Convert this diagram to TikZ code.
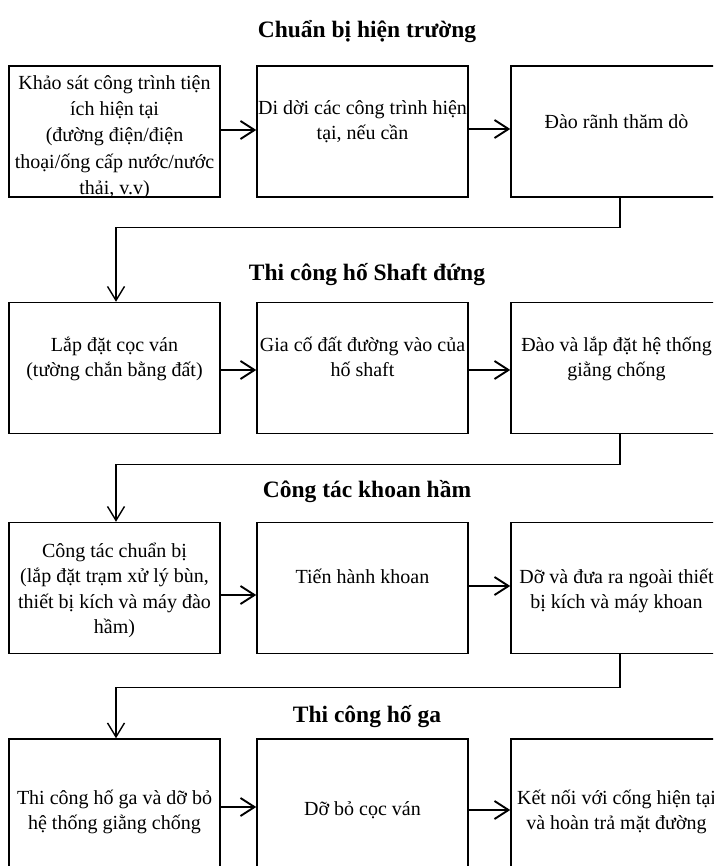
\documentclass[tikz,border=0pt]{standalone}
\usepackage{fontspec}
\setmainfont{Liberation Serif}
\usetikzlibrary{arrows.meta}
\begin{document}
\begin{tikzpicture}[x=1pt,y=-1pt,
  box/.style={draw, line width=1.5pt, minimum width=211pt, minimum height=131pt, inner sep=0pt},
  txt/.style={anchor=north, inner sep=0pt, align=center, font=\fontsize{20}{25.5}\selectfont},
  ttl/.style={anchor=base, inner sep=0pt, font=\fontsize{23.5}{28}\selectfont\bfseries},
  arr/.style={line width=1.9pt, -{Straight Barb[length=14pt,width=18pt]}},
  conn/.style={line width=1.4pt, -{Straight Barb[length=14pt,width=17pt]}}
]
\useasboundingbox (0,0) rectangle (713,866);
\clip (0,0) rectangle (713,866);
\newcommand{\fl}{\rule{0pt}{21pt}}
% titles
\node[ttl] (h1) at (367,38) {Chuẩn bị hiện trường};
\node[ttl] (h2) at (367,280) {Thi công hố Shaft đứng};
\node[ttl] (h3) at (367,497) {Công tác khoan hầm};
\node[ttl] (h4) at (367,722) {Thi công hố ga};
% row 1
\node[box] (r1a) at (114.5,131.5) {};
\node[box] (r1b) at (362.5,131.5) {};
\node[box] (r1c) at (616.5,131.5) {};
\node[txt, font=\fontsize{20}{26.3}\selectfont] (t1a) at (114.5,89-21) {\fl Khảo sát công trình tiện\\ích hiện tại\\(đường điện/điện\\thoại/ống cấp nước/nước\\thải, v.v)};
\node[txt] (t1b) at (362.5,114-21) {\fl Di dời các công trình hiện\\tại, nếu cần};
\node[txt] (t1c) at (616.5,128-21) {\fl Đào rãnh thăm dò};
% row 2
\node[box] (r2a) at (114.5,368) {};
\node[box] (r2b) at (362.5,368) {};
\node[box] (r2c) at (616.5,368) {};
\node[txt] (t2a) at (114.5,351-21) {\fl Lắp đặt cọc ván\\(tường chắn bằng đất)};
\node[txt] (t2b) at (362.5,351-21) {\fl Gia cố đất đường vào của\\hố shaft};
\node[txt] (t2c) at (616.5,351-21) {\fl Đào và lắp đặt hệ thống\\giằng chống};
% row 3
\node[box] (r3a) at (114.5,588) {};
\node[box] (r3b) at (362.5,588) {};
\node[box] (r3c) at (616.5,588) {};
\node[txt] (t3a) at (114.5,557-21) {\fl Công tác chuẩn bị\\(lắp đặt trạm xử lý bùn,\\thiết bị kích và máy đào\\hầm)};
\node[txt] (t3b) at (362.5,583-21) {\fl Tiến hành khoan};
\node[txt] (t3c) at (616.5,583-21) {\fl Dỡ và đưa ra ngoài thiết\\bị kích và máy khoan};
% row 4
\node[box] (r4a) at (114.5,804.5) {};
\node[box] (r4b) at (362.5,804.5) {};
\node[box] (r4c) at (616.5,804.5) {};
\node[txt] (t4a) at (114.5,804-21) {\fl Thi công hố ga và dỡ bỏ\\hệ thống giằng chống};
\node[txt] (t4b) at (362.5,815-21) {\fl Dỡ bỏ cọc ván};
\node[txt] (t4c) at (616.5,804-21) {\fl Kết nối với cống hiện tại\\và hoàn trả mặt đường};
% horizontal arrows
\draw[arr] ([yshift=1.5pt]r1a.east) -- ([yshift=1.5pt]r1b.west);
\draw[arr] ([yshift=2.5pt]r1b.east) -- ([yshift=2.5pt]r1c.west);
\draw[arr] ([yshift=-2pt]r2a.east) -- ([yshift=-2pt]r2b.west);
\draw[arr] ([yshift=-2pt]r2b.east) -- ([yshift=-2pt]r2c.west);
\draw[arr] ([yshift=-7pt]r3a.east) -- ([yshift=-7pt]r3b.west);
\draw[arr] ([yshift=2pt]r3b.east) -- ([yshift=2pt]r3c.west);
\draw[arr] ([yshift=-2.5pt]r4a.east) -- ([yshift=-2.5pt]r4b.west);
\draw[arr] ([yshift=-5.5pt]r4b.east) -- ([yshift=-5.5pt]r4c.west);
% row connectors
\draw[conn] ([xshift=3.5pt]r1c.south) -- ++(0,30) -| ([xshift=1.5pt]r2a.north);
\draw[conn] ([xshift=3.5pt]r2c.south) -- ++(0,30) -| ([xshift=1.5pt]r3a.north);
\draw[conn] ([xshift=3.5pt]r3c.south) -- ++(0,33) -| ([xshift=1.5pt]r4a.north);
\end{tikzpicture}
\end{document}
